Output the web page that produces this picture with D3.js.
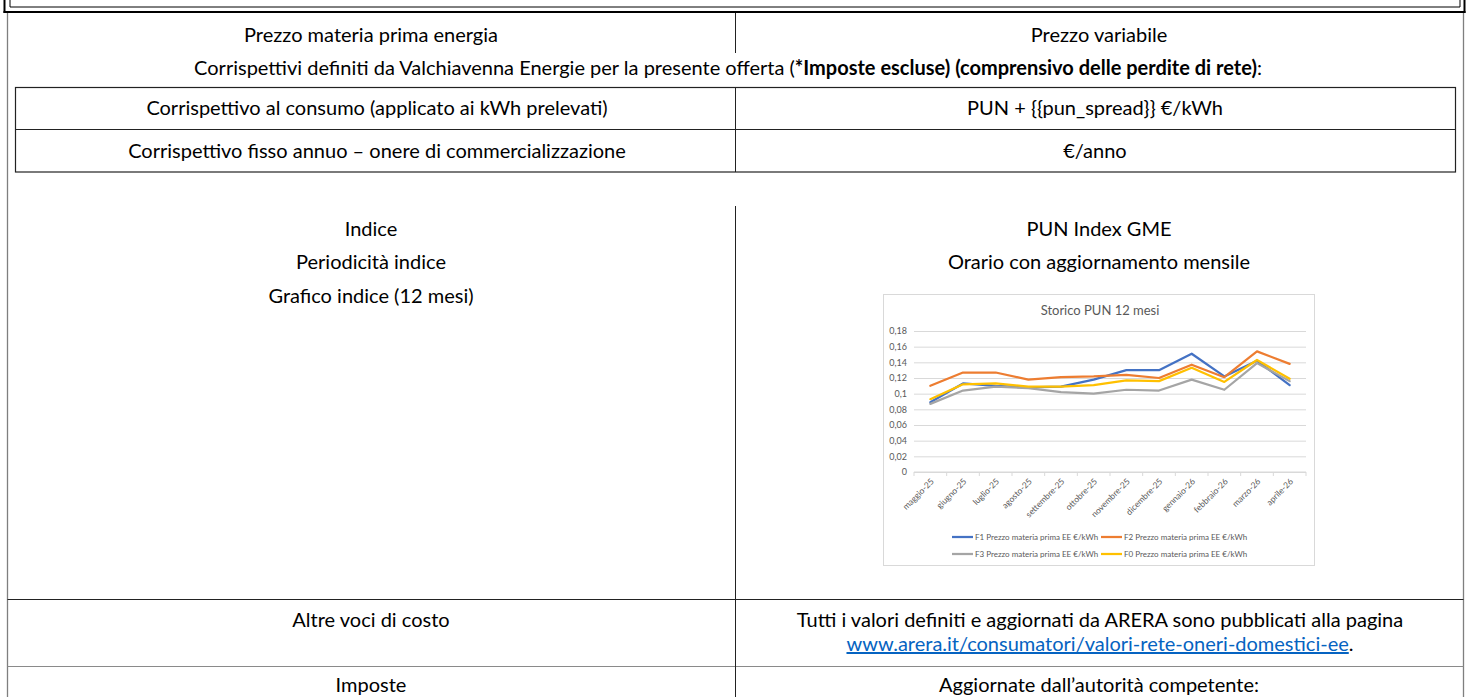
<!DOCTYPE html>
<html>
<head>
<meta charset="utf-8">
<script src="https://cdn.jsdelivr.net/npm/d3@7"></script>
<style>
body { margin: 0; background: #fff; }
text { font-family: Lato, "Liberation Sans", sans-serif; }
</style>
</head>
<body>
<svg id="page" width="1469" height="697"></svg>
<script>
// months shown on the x axis
var categories = ["maggio-25", "giugno-25", "luglio-25", "agosto-25", "settembre-25", "ottobre-25",
                  "novembre-25", "dicembre-25", "gennaio-26", "febbraio-26", "marzo-26", "aprile-26"];

// €/kWh
var f1 = [0.089, 0.113, 0.110, 0.108, 0.109, 0.118, 0.130, 0.130, 0.151, 0.122, 0.142, 0.111];
var f2 = [0.110, 0.127, 0.127, 0.118, 0.121, 0.122, 0.124, 0.120, 0.137, 0.121, 0.154, 0.138];
var f3 = [0.087, 0.104, 0.109, 0.107, 0.102, 0.100, 0.105, 0.104, 0.118, 0.105, 0.139, 0.116];
var f0 = [0.093, 0.112, 0.113, 0.109, 0.109, 0.111, 0.117, 0.116, 0.133, 0.115, 0.143, 0.119];

var seriesNames = ["F1 Prezzo materia prima EE €/kWh", "F2 Prezzo materia prima EE €/kWh",
                   "F3 Prezzo materia prima EE €/kWh", "F0 Prezzo materia prima EE €/kWh"];

var yTicks = [0, 0.02, 0.04, 0.06, 0.08, 0.1, 0.12, 0.14, 0.16, 0.18];
var yTickLabels = ["0", "0,02", "0,04", "0,06", "0,08", "0,1", "0,12", "0,14", "0,16", "0,18"];

var colors = ["#4472C4", "#ED7D31", "#A5A5A5", "#FFC000"];
var series = [f1, f2, f3, f0];

var svg = d3.select("#page");
var doc = svg.append("g");
var fs = 20;

function hline(x1, x2, y, color, w) {
    doc.append("line").attr("x1", x1).attr("x2", x2).attr("y1", y).attr("y2", y)
        .attr("stroke", color).attr("stroke-width", w || 1);
}
function vline(x, y1, y2, color, w) {
    doc.append("line").attr("x1", x).attr("x2", x).attr("y1", y1).attr("y2", y2)
        .attr("stroke", color).attr("stroke-width", w || 1);
}
function label(x, y, str) {
    return doc.append("text").attr("x", x).attr("y", y).attr("text-anchor", "middle")
        .attr("font-size", fs).attr("fill", "#000").text(str);
}

// double frame cut at the top of the page
vline(4.5, 0, 13, "#000", 2);
vline(1464.5, 0, 13, "#000", 2);
hline(3.5, 1465.5, 12, "#000", 2);
vline(10, 0, 7, "#000", 1);
vline(1460, 0, 7, "#000", 1);
hline(10, 1460, 7, "#000", 1);

// outer table sides
vline(7.5, 13, 697, "#7f7f7f", 1.3);
vline(1463.5, 13, 697, "#7f7f7f", 1.3);

// first row
vline(735.5, 13, 53, "#222", 1);
label(371, 42, "Prezzo materia prima energia");
label(1099, 42, "Prezzo variabile");

var cap = doc.append("text").attr("x", 728).attr("y", 75).attr("text-anchor", "middle")
    .attr("font-size", fs);
cap.append("tspan").text("Corrispettivi definiti da Valchiavenna Energie per la presente offerta (");
cap.append("tspan").attr("font-weight", "bold").text("*Imposte escluse) (comprensivo delle perdite di rete)");
cap.append("tspan").text(":");

// inner table
doc.append("rect").attr("x", 15.5).attr("y", 87.5).attr("width", 1440).attr("height", 84.5)
    .attr("fill", "none").attr("stroke", "#222").attr("stroke-width", 1.2);
hline(15.5, 1455.5, 129.5, "#222", 1.2);
vline(735.5, 87.5, 172, "#222", 1);
label(377, 115, "Corrispettivo al consumo (applicato ai kWh prelevati)");
label(1095, 115, "PUN + {{pun_spread}} €/kWh");
label(377, 158, "Corrispettivo fisso annuo – onere di commercializzazione");
label(1095, 158, "€/anno");

// indice block
vline(735.5, 206, 599, "#222", 1);
label(371, 236, "Indice");
label(371, 269, "Periodicità indice");
label(371, 303, "Grafico indice (12 mesi)");
label(1099, 236, "PUN Index GME");
label(1099, 269, "Orario con aggiornamento mensile");

// bottom rows
hline(7.5, 1463.5, 599.5, "#222", 1);
hline(7.5, 1463.5, 666.5, "#8a8a8a", 1);
vline(735.5, 599, 697, "#222", 1);
label(371, 627, "Altre voci di costo");
label(1100, 627, "Tutti i valori definiti e aggiornati da ARERA sono pubblicati alla pagina");
var link = doc.append("text").attr("x", 1100).attr("y", 651).attr("text-anchor", "middle").attr("font-size", fs);
link.append("tspan").attr("fill", "#0563C1").attr("text-decoration", "underline")
    .style("text-decoration", "underline")
    .text("www.arera.it/consumatori/valori-rete-oneri-domestici-ee");
link.append("tspan").attr("fill", "#000").text(".");
label(371, 692, "Imposte");
label(1099, 692, "Aggiornate dall’autorità competente:");

// ---- embedded chart ----
var cw = 432, ch = 272;
var chart = svg.append("g").attr("transform", "translate(883,294)");
chart.append("rect").attr("x", 0.5).attr("y", 0.5).attr("width", cw - 1).attr("height", ch - 1)
    .attr("fill", "#fff").attr("stroke", "#d9d9d9");

var plot = {left: 31, right: 423, top: 37, bottom: 178};
var x = d3.scaleBand().domain(categories).range([plot.left, plot.right]);
var y = d3.scaleLinear().domain([0, 0.18]).range([plot.bottom, plot.top]);

chart.append("text").attr("x", cw / 2 + 1).attr("y", 21).attr("text-anchor", "middle")
    .attr("font-size", 13).attr("fill", "#595959").text("Storico PUN 12 mesi");

// gridlines + y labels
var yAxis = chart.append("g").attr("transform", "translate(" + plot.left + ",0)")
    .call(d3.axisLeft(y).tickValues(yTicks)
        .tickSize(-(plot.right - plot.left)).tickPadding(7)
        .tickFormat(function(d, i){ return yTickLabels[i]; }));
yAxis.select(".domain").remove();
yAxis.selectAll(".tick line").attr("stroke", "#d9d9d9");
yAxis.selectAll(".tick text").attr("fill", "#595959").attr("font-size", 9)
    .style("font-family", "Lato, sans-serif");

// x axis: tick marks sit on category boundaries
var xAxis = chart.append("g").attr("transform", "translate(0," + plot.bottom + ")");
xAxis.append("line").attr("x1", plot.left).attr("x2", plot.right).attr("stroke", "#d9d9d9");
var bounds = categories.map(function(c){ return x(c); }).concat([x.range()[1]]);
xAxis.selectAll(".tk").data(bounds).enter().append("line").attr("class", "tk")
    .attr("x1", function(d){ return d; }).attr("x2", function(d){ return d; })
    .attr("y1", 0).attr("y2", 4).attr("stroke", "#d9d9d9");
xAxis.selectAll(".xl").data(categories).enter().append("text").attr("class", "xl")
    .attr("transform", function(d){ return "translate(" + (x(d) + x.bandwidth() / 2 + 2) + ",8) rotate(-45)"; })
    .attr("text-anchor", "end").attr("dy", "0.35em")
    .attr("font-size", 8.5).attr("fill", "#595959").text(function(d){ return d; });

// series lines
var line = d3.line()
    .x(function(d, i){ return x(categories[i]) + x.bandwidth() / 2; })
    .y(function(d){ return y(d); });
chart.selectAll(".series").data(series).enter().append("path").attr("class", "series")
    .attr("d", line).attr("fill", "none")
    .attr("stroke", function(d, i){ return colors[i]; })
    .attr("stroke-width", 2.25).attr("stroke-linejoin", "round").attr("stroke-linecap", "round");

// legend, two per row
var legendPos = [[69, 243], [218, 243], [69, 260], [218, 260]];
var legend = chart.selectAll(".lg").data(seriesNames).enter().append("g").attr("class", "lg")
    .attr("transform", function(d, i){ return "translate(" + legendPos[i][0] + "," + legendPos[i][1] + ")"; });
legend.append("line").attr("x1", 0).attr("x2", 21).attr("stroke-width", 2.25)
    .attr("stroke", function(d, i){ return colors[i]; });
legend.append("text").attr("x", 23).attr("dy", "0.35em").attr("font-size", 8)
    .attr("fill", "#595959").text(function(d){ return d; });
</script>
</body>
</html>
